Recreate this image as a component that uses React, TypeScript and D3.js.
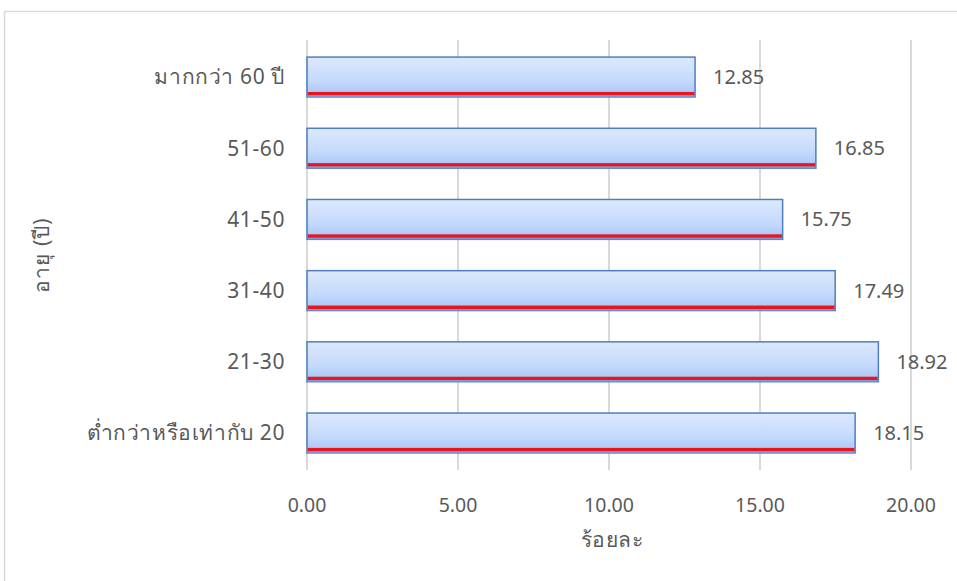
import React from "react";
import * as d3 from "d3";

const categories = ["มากกว่า 60 ปี", "51-60", "41-50", "31-40", "21-30", "ต่ำกว่าหรือเท่ากับ 20"];
const values = [12.85, 16.85, 15.75, 17.49, 18.92, 18.15];
const xTicks = [0, 5, 10, 15, 20];
const xTitle = "ร้อยละ";
const yTitle = "อายุ (ปี)";

const W = 957;
const H = 581;
const left = 307;
const right = 911;
const top = 40;
const bottom = 470;
const FONT = "'Noto Sans', 'DejaVu Sans', sans-serif";

export default function App() {
  const x = d3.scaleLinear().domain([0, 20]).range([left, right]);
  const y = d3.scaleBand<string>().domain(categories).range([top, bottom]).paddingInner(0.44).paddingOuter(0.24);
  const bh = y.bandwidth();
  return (
    <svg width={W} height={H} style={{ position: "absolute", left: 0, top: 0, background: "#fff" }}>
      <defs>
        <linearGradient id="barGrad" x1="0" y1="0" x2="0" y2="1">
          <stop offset="0%" stopColor="#dce9fd" />
          <stop offset="60%" stopColor="#c4d9fc" />
          <stop offset="100%" stopColor="#a3c3f7" />
        </linearGradient>
      </defs>
      <rect x={4.5} y={11.5} width={W + 10} height={H + 10} fill="#fff" stroke="#d9d9d9" strokeWidth={1.5} />
      {xTicks.map((t) => (
        <line key={t} x1={x(t)} x2={x(t)} y1={top} y2={bottom} stroke="#d9d9d9" strokeWidth={2} />
      ))}
      {categories.map((c, i) => {
        const y0 = y(c)!;
        const w = x(values[i]) - x(0);
        return (
          <g key={c}>
            <rect x={x(0)} y={y0} width={w} height={bh} fill="url(#barGrad)" stroke="#4f7fbd" strokeWidth={1.5} />
            <rect x={x(0) + 0.75} y={y0 + bh - 5} width={w - 1.5} height={3.5} fill="#e8141e" />
            <rect x={x(0) + 0.75} y={y0 + bh - 1.5} width={w - 1.5} height={1.5} fill="#7f97d8" />
            <text x={x(values[i]) + 18} y={y0 + bh / 2} dy="0.35em" fontSize={20} fill="#595959" fontFamily={FONT}>
              {values[i].toFixed(2)}
            </text>
            <text x={285} y={y0 + bh / 2} dy="0.35em" textAnchor="end" fontSize={21} letterSpacing={0.6} fill="#595959" fontFamily={FONT}>
              {c}
            </text>
          </g>
        );
      })}
      {xTicks.map((t) => (
        <text key={t} x={x(t)} y={505} dy="0.35em" textAnchor="middle" fontSize={19.5} fill="#595959" fontFamily={FONT}>
          {t.toFixed(2)}
        </text>
      ))}
      <text x={612} y={540} dy="0.35em" textAnchor="middle" fontSize={21} letterSpacing={0.5} fill="#595959" fontFamily={FONT}>
        {xTitle}
      </text>
      <text transform={`translate(42,255) rotate(-90)`} dy="0.35em" textAnchor="middle" fontSize={21} letterSpacing={1} fill="#595959" fontFamily={FONT}>
        {yTitle}
      </text>
    </svg>
  );
}
